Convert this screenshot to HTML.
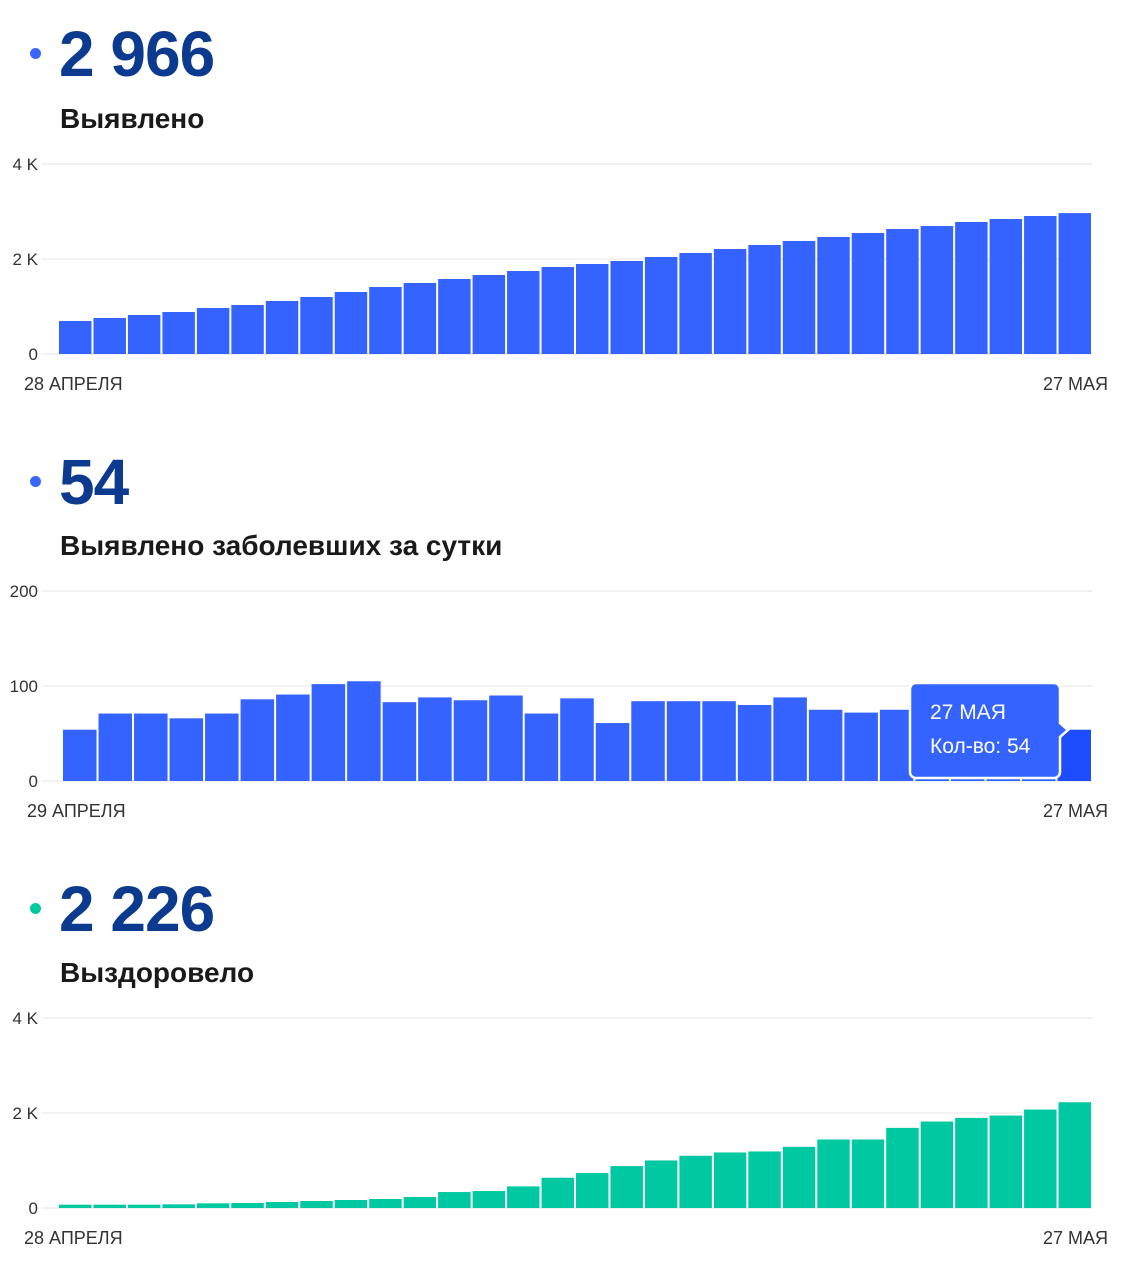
<!DOCTYPE html>
<html><head><meta charset="utf-8"><style>
body{margin:0;background:#fff;width:1126px;height:1280px;overflow:hidden;font-family:"Liberation Sans",sans-serif;position:relative}
.big{position:absolute;left:59px;font-size:64px;font-weight:bold;color:#0b3a8f;letter-spacing:-1px;line-height:1}
.dot{position:absolute;left:30px;width:11px;height:11px;border-radius:50%}
.ttl{position:absolute;left:60px;font-size:28px;font-weight:bold;color:#1a1a1a}
svg{position:absolute;left:0}
</style></head><body>
<div class="dot" style="top:48px;background:#3a66ff"></div>
<div class="big" style="top:22px">2 966</div>
<div class="ttl" style="top:103px">Выявлено</div>
<svg id="c1" width="1126" height="260" style="top:150px"></svg>

<div class="dot" style="top:476px;background:#3a66ff"></div>
<div class="big" style="top:450px">54</div>
<div class="ttl" style="top:530px">Выявлено заболевших за сутки</div>
<svg id="c2" width="1126" height="260" style="top:577px"></svg>

<div class="dot" style="top:903px;background:#00c9a0"></div>
<div class="big" style="top:877px">2 226</div>
<div class="ttl" style="top:957px">Выздоровело</div>
<svg id="c3" width="1126" height="260" style="top:1004px"></svg>

<script>
const detectedValues=[695,758,821,884,968,1032,1116,1200,1305,1410,1495,1579,1663,1747,1831,1895,1958,2042,2126,2210,2295,2379,2463,2547,2631,2694,2779,2842,2905,2966];
const detectedTicks=[0,2000,4000];
const detectedTickLabels=["0","2 K","4 K"];
const detectedDates=["28 АПРЕЛЯ","27 МАЯ"];
const dailyValues=[54,71,71,66,71,86,91,102,105,83,88,85,90,71,87,61,84,84,84,80,88,75,72,75,68,62,58,60,54];
const dailyTicks=[0,100,200];
const dailyTickLabels=["0","100","200"];
const dailyDates=["29 АПРЕЛЯ","27 МАЯ"];
const recoveredValues=[70,70,70,77,98,105,126,147,168,189,231,336,357,455,637,735,882,1001,1099,1169,1190,1288,1442,1442,1687,1820,1897,1946,2072,2226];
const recoveredTicks=[0,2000,4000];
const recoveredTickLabels=["0","2 K","4 K"];
const recoveredDates=["28 АПРЕЛЯ","27 МАЯ"];
const NS="http://www.w3.org/2000/svg";
function mk(svg,tag,attrs){const e=document.createElementNS(NS,tag);for(const k in attrs)e.setAttribute(k,attrs[k]);svg.appendChild(e);return e;}
function chart(id,vals,ticks,labels,dates,color,x0,maxV,lastColor){
 const svg=document.getElementById(id);
 const base=204,top=14,x1=1092;
 const y=v=>base-(v/maxV)*(base-top);
 ticks.forEach((t,i)=>{
  const l=mk(svg,'line',{x1:42,x2:1092,y1:y(t),y2:y(t),stroke:'#eeeeee','stroke-width':1.5});
  
  
  const tx=mk(svg,'text',{x:38,y:y(t)+6,'text-anchor':'end','font-size':17,fill:'#333','font-family':'Liberation Sans'});
  tx.textContent=labels[i];
  
  
 });
 const w=(x1-x0)/vals.length;
 vals.forEach((v,i)=>{
  const r=mk(svg,'rect',{x:x0+i*w+1,y:y(v),width:w-2,height:base-y(v),fill:(lastColor&&i==vals.length-1)?lastColor:color});
  
  
 });
 const d1=mk(svg,'text',{x:x0-34+(id=='c2'?-1:0),y:base+36,'font-size':18,fill:'#333','font-family':'Liberation Sans'});
 d1.textContent=dates[0];
 
 
 const d2=mk(svg,'text',{x:1108,y:base+36,'text-anchor':'end','font-size':18,fill:'#333','font-family':'Liberation Sans'});
 d2.textContent=dates[1];
 
 
 return {svg,y,w};
}
chart('c1',detectedValues,detectedTicks,detectedTickLabels,detectedDates,'#3563ff',58,4000);
const c2=chart('c2',dailyValues,dailyTicks,dailyTickLabels,dailyDates,'#3563ff',62,200,'#1e4cff');
chart('c3',recoveredValues,recoveredTicks,recoveredTickLabels,recoveredDates,'#00c8a0',58,4000);
// tooltip
const s=c2.svg;
const tg=mk(s,'g',{});


const p=mk(tg,'path',{d:'M916 106 H1054 a6 6 0 0 1 6 6 V146 L1068 153 L1060 160 V195 a6 6 0 0 1 -6 6 H916 a6 6 0 0 1 -6 -6 V112 a6 6 0 0 1 6 -6 Z',fill:'#3563ff',stroke:'#fff','stroke-width':2.5});
const t1=mk(tg,'text',{x:930,y:142,'font-size':21,fill:'#fff','font-family':'Liberation Sans'});
t1.textContent='27 МАЯ';
const t2=mk(tg,'text',{x:930,y:176,'font-size':21,fill:'#fff','font-family':'Liberation Sans'});
t2.textContent='Кол-во: '+dailyValues[dailyValues.length-1];
</script>
</body></html>
